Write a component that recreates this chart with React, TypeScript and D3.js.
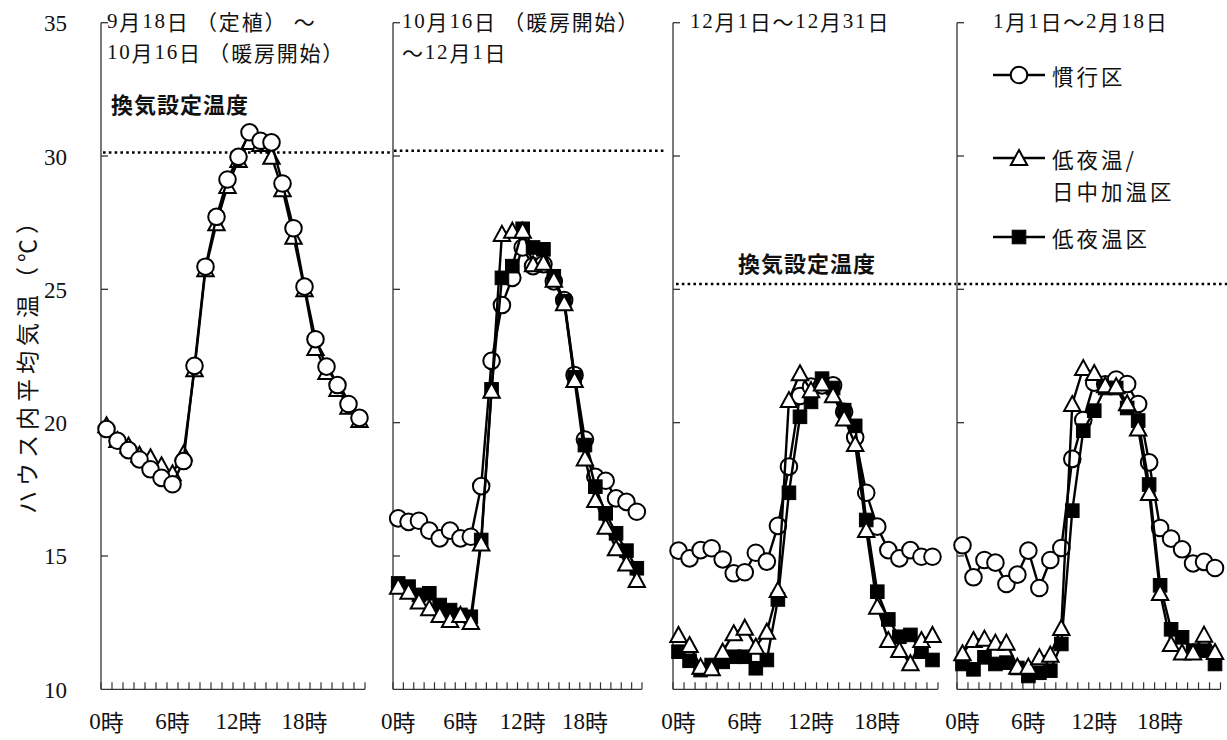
import React from 'react';
import * as d3 from 'd3';

// ---------- data ----------
const hours = [0, 1, 2, 3, 4, 5, 6, 7, 8, 9, 10, 11, 12, 13, 14, 15, 16, 17, 18, 19, 20, 21, 22, 23];
const hourTicks = [0, 6, 12, 18];
const hourTickLabels = ['0時', '6時', '12時', '18時'];
const yTicks = [10, 15, 20, 25, 30, 35];

const panelTitles = [
  ['9月18日 （定植） ～', '10月16日 （暖房開始）'],
  ['10月16日 （暖房開始）', '～12月1日'],
  ['12月1日～12月31日'],
  ['1月1日～2月18日'],
];
const setpointLabel = '換気設定温度';
const setpoints = [30.13, 30.2, 25.2, 25.2];

const seriesNames = ['慣行区', '低夜温/日中加温区', '低夜温区'];
const legendLines = [['慣行区'], ['低夜温/', '日中加温区'], ['低夜温区']];

// 慣行区 (circles)
const p1Kanko = [19.76, 19.32, 18.97, 18.62, 18.25, 17.93, 17.69, 18.56, 22.13, 25.85, 27.72, 29.12, 29.97, 30.89, 30.57, 30.51, 28.97, 27.29, 25.1, 23.13, 22.1, 21.41, 20.7, 20.18];
const p2Kanko = [16.41, 16.28, 16.32, 15.95, 15.66, 15.95, 15.66, 15.72, 17.62, 22.32, 24.41, 25.43, 26.57, 25.87, 25.94, 25.3, 24.6, 21.79, 19.37, 17.97, 17.82, 17.16, 17.03, 16.66];
const p3Kanko = [15.2, 14.91, 15.22, 15.29, 14.87, 14.35, 14.39, 15.12, 14.79, 16.13, 18.35, 21.0, 21.35, 21.4, 21.4, 20.41, 19.45, 17.37, 16.1, 15.22, 14.91, 15.22, 14.97, 14.97];
const p4Kanko = [15.4, 14.2, 14.85, 14.75, 13.95, 14.3, 15.2, 13.8, 14.85, 15.3, 18.64, 20.1, 21.5, 21.44, 21.62, 21.45, 20.7, 18.51, 16.05, 15.65, 15.25, 14.72, 14.78, 14.55];

// 低夜温/日中加温区 (triangles)
const p1Day = [19.9, 19.35, 19.14, 18.8, 18.7, 18.4, 18.1, 18.84, 22.0, 25.75, 27.48, 28.88, 29.85, 30.53, 30.45, 29.97, 28.75, 26.97, 25.0, 22.8, 21.9, 21.26, 20.6, 20.1];
const p2Day = [13.85, 13.66, 13.29, 13.04, 12.79, 12.6, 12.79, 12.52, 15.47, 21.2, 27.08, 27.2, 27.2, 25.94, 26.0, 25.36, 24.48, 21.6, 18.66, 17.1, 16.1, 15.29, 14.72, 14.1];
const p3Day = [12.04, 11.66, 10.85, 10.79, 11.41, 12.1, 12.31, 11.6, 12.16, 13.72, 20.85, 21.85, 21.22, 21.47, 21.03, 20.16, 19.2, 15.97, 13.1, 11.85, 11.47, 10.98, 11.85, 12.04];
const p4Day = [11.35, 11.85, 11.9, 11.75, 11.75, 10.85, 10.85, 11.2, 11.3, 12.3, 20.7, 22.05, 21.86, 21.4, 21.37, 20.73, 19.78, 17.36, 13.61, 11.7, 11.38, 11.38, 12.05, 11.4];

// 低夜温区 (squares)
const p2Low = [13.97, 13.85, 13.54, 13.6, 13.16, 12.97, 12.79, 12.72, 15.6, 21.25, 25.43, 25.87, 27.27, 26.57, 26.5, 25.49, 24.55, 21.7, 19.16, 17.6, 16.6, 15.85, 15.2, 14.54];
const p3Low = [11.41, 11.07, 10.72, 10.91, 11.03, 11.22, 11.22, 10.79, 11.1, 13.37, 17.37, 20.22, 20.78, 21.65, 21.3, 20.47, 19.88, 16.35, 13.66, 12.62, 11.97, 12.04, 11.41, 11.1];
const p4Low = [10.95, 10.75, 11.2, 10.95, 11.0, 10.8, 10.5, 10.62, 10.7, 11.7, 16.7, 19.7, 20.45, 21.3, 21.3, 20.55, 20.08, 17.68, 13.9, 12.25, 11.95, 11.45, 11.45, 10.95];

const kanko = [p1Kanko, p2Kanko, p3Kanko, p4Kanko];
const dayHeat = [p1Day, p2Day, p3Day, p4Day];
const lowNight: (number[] | null)[] = [null, p2Low, p3Low, p4Low];

// ---------- layout ----------
const W = 1227;
const H = 740;
const panelX: [number, number][] = [
  [101, 365],
  [393, 642],
  [673, 938],
  [957, 1220.5],
];
const dotExtent: [number, number][] = [
  [103, 392],
  [394, 665],
  [676, 956],
  [958, 1227],
];
const yTop = 22.7;
const yBottom = 689.3;

const numSerif = '"Liberation Serif", "DejaVu Serif", serif';
const gothic = '"Noto Sans CJK JP", sans-serif';

const y = d3.scaleLinear().domain([10, 35]).range([yBottom, yTop]);

type Kind = 'circle' | 'triangle' | 'square';

function Marker({ kind, cx, cy }: { kind: Kind; cx: number; cy: number }) {
  if (kind === 'circle')
    return <circle cx={cx} cy={cy} r={8.3} fill="#fff" stroke="#000" strokeWidth={2} />;
  if (kind === 'triangle')
    return (
      <path
        d={`M${cx},${cy - 8}L${cx + 8.2},${cy + 7}L${cx - 8.2},${cy + 7}Z`}
        fill="#fff"
        stroke="#000"
        strokeWidth={2}
        strokeLinejoin="miter"
      />
    );
  return <rect x={cx - 6.8} y={cy - 6.8} width={13.6} height={13.6} fill="#000" stroke="#000" strokeWidth={1} />;
}

function Series({ data, x, bw, kind }: { data: number[]; x: d3.ScaleBand<number>; bw: number; kind: Kind }) {
  const line = d3
    .line<number>()
    .x((_, i) => (x(hours[i]) as number) + bw / 2)
    .y((d) => y(d));
  return (
    <g>
      <path d={line(data) || ''} fill="none" stroke="#000" strokeWidth={2.4} strokeLinejoin="round" />
      {data.map((d, i) => (
        <Marker key={i} kind={kind} cx={(x(hours[i]) as number) + bw / 2} cy={y(d)} />
      ))}
    </g>
  );
}

// digits in serif, Japanese in CJK font
function MixedText({ text, fontSize }: { text: string; fontSize: number }) {
  const parts = text.match(/[0-9]+|[^0-9]+/g) || [];
  return (
    <>
      {parts.map((p, i) => (
        <tspan key={i} fontFamily={/[0-9]/.test(p) ? numSerif : gothic} fontSize={fontSize}>
          {p}
        </tspan>
      ))}
    </>
  );
}

function Panel({ idx }: { idx: number }) {
  const [x0, x1] = panelX[idx];
  const x = d3.scaleBand<number>().domain(hours).range([x0, x1]).padding(0);
  const bw = x.bandwidth();
  const boundaries = [...hours.map((h) => x(h) as number), x1];
  const order: { data: number[] | null; kind: Kind }[] =
    idx === 0
      ? [
          { data: dayHeat[idx], kind: 'triangle' },
          { data: kanko[idx], kind: 'circle' },
        ]
      : [
          { data: kanko[idx], kind: 'circle' },
          { data: lowNight[idx], kind: 'square' },
          { data: dayHeat[idx], kind: 'triangle' },
        ];
  return (
    <g>
      <line x1={x0} x2={x0} y1={y(35)} y2={y(10)} stroke="#333" strokeWidth={1.3} />
      {yTicks.slice(1).map((t) => (
        <line key={t} x1={x0} x2={x0 + 7} y1={y(t)} y2={y(t)} stroke="#333" strokeWidth={1.3} />
      ))}
      <line x1={x0} x2={x1} y1={y(10)} y2={y(10)} stroke="#333" strokeWidth={1.3} />
      {boundaries.map((bx, i) => (
        <line key={i} x1={bx} x2={bx} y1={y(10)} y2={y(10) - 7} stroke="#333" strokeWidth={1.2} />
      ))}
      {hourTicks.map((h, i) => (
        <text
          key={h}
          x={(x(h) as number) + bw / 2}
          y={721}
          textAnchor="middle"
          dominantBaseline="central"
          fill="#111"
        >
          <MixedText text={hourTickLabels[i]} fontSize={23} />
        </text>
      ))}
      <line
        x1={dotExtent[idx][0]}
        x2={dotExtent[idx][1]}
        y1={y(setpoints[idx])}
        y2={y(setpoints[idx])}
        stroke="#000"
        strokeWidth={2.6}
        strokeDasharray="2.6 3.2"
      />
      {order.map((s, i) => (s.data ? <Series key={i} data={s.data} x={x} bw={bw} kind={s.kind} /> : null))}
    </g>
  );
}

export default function App() {
  const titleX = [107, 402, 690, 993];
  return (
    <svg
      width={W}
      height={H}
      viewBox={`0 0 ${W} ${H}`}
      style={{ position: 'absolute', left: 0, top: 0, background: '#fff' }}
    >
      <rect x={0} y={0} width={W} height={H} fill="#fff" />
      {yTicks.map((t) => (
        <text
          key={t}
          x={67}
          y={y(t) + 1}
          textAnchor="end"
          dominantBaseline="central"
          fontFamily={numSerif}
          fontSize={23}
          fill="#111"
        >
          {t}
        </text>
      ))}
      <text
        transform={`translate(26,${360}) rotate(-90)`}
        textAnchor="middle"
        dominantBaseline="central"
        fontFamily={gothic}
        fontSize={23}
        letterSpacing={5}
        fill="#111"
      >
        ハウス内平均気温（℃）
      </text>

      {panelX.map((_, i) => (
        <Panel key={i} idx={i} />
      ))}

      {panelTitles.map((lines, i) => (
        <text key={i} x={titleX[i]} y={21} dominantBaseline="central" letterSpacing={1.8} fill="#111">
          {lines.map((ln, j) => (
            <tspan key={j} x={titleX[i]} dy={j === 0 ? 0 : 31}>
              <MixedText text={ln} fontSize={21} />
            </tspan>
          ))}
        </text>
      ))}

      <text x={111} y={103} dominantBaseline="central" fontFamily={gothic} fontWeight="bold" fontSize={22} letterSpacing={1} fill="#111">
        {setpointLabel}
      </text>
      <text x={738} y={262} dominantBaseline="central" fontFamily={gothic} fontWeight="bold" fontSize={22} letterSpacing={1} fill="#111">
        {setpointLabel}
      </text>

      {(['circle', 'triangle', 'square'] as Kind[]).map((k, i) => {
        const ly = [75, 158, 237][i];
        return (
          <g key={k} aria-label={seriesNames[i]}>
            <line x1={993} x2={1045} y1={ly} y2={ly} stroke="#000" strokeWidth={2.4} />
            <Marker kind={k} cx={1019} cy={ly} />
            <text
              x={1052}
              y={ly}
              dominantBaseline="central"
              fontFamily={gothic}
              fontSize={21.5}
              letterSpacing={3}
              fill="#111"
            >
              {legendLines[i].map((t, j) => (
                <tspan key={j} x={1052} dy={j === 0 ? 0 : 31.5}>
                  {t}
                </tspan>
              ))}
            </text>
          </g>
        );
      })}
    </svg>
  );
}
